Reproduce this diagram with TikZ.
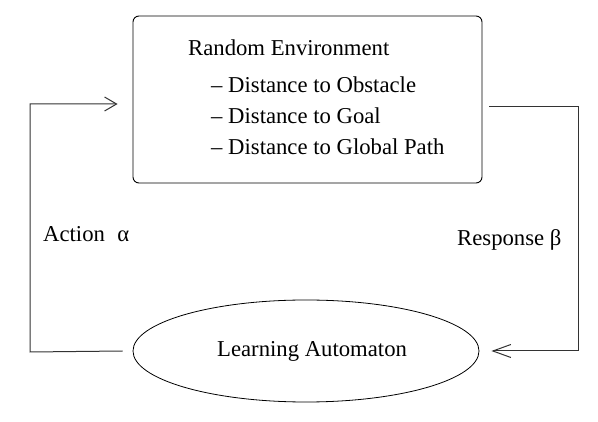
\documentclass[tikz,border=0pt]{standalone}
\usepackage{fontspec}
\setmainfont{Liberation Serif}
\usetikzlibrary{shapes.geometric,arrows.meta}
\begin{document}
\begin{tikzpicture}[x=1pt,y=-1pt,
  every node/.style={font=\fontsize{22.7}{26}\selectfont, inner sep=0pt},
  line/.style={draw=black!80, line width=1pt},
  arrA/.style={-{Straight Barb[length=12pt,width=14pt,line width=1pt]}},
  arrB/.style={-{Straight Barb[length=18pt,width=13pt,line width=1pt]}},
  lbl/.style={anchor=base west}]
\useasboundingbox (0,0) rectangle (598,422);
\node[draw, line width=0.9pt, rounded corners=6pt, minimum width=349pt, minimum height=167pt] (box) at (307.5,99.5) {};
\node[draw, ellipse, line width=0.8pt, minimum width=346pt, minimum height=102pt] (ell) at (306,351) {};
\node[lbl] (t0) at (188,56) {Random Environment};
\node[lbl] (t1) at (211,93) {– Distance to Obstacle};
\node[lbl] (t2) at (211,124) {– Distance to Goal};
\node[lbl] (t3) at (211,155) {– Distance to Global Path};
\node[lbl] (act) at (43,242) {Action\hspace{0.55em}α};
\node[lbl] (resp) at (457,246) {Response β};
\node[lbl] (la) at (217,357) {Learning Automaton};
\coordinate (lb) at (30,352);
\coordinate (rt) at (578,107);
\draw[line, arrA] ([xshift=-10pt]ell.west) -- (lb) |- ([xshift=-15pt,yshift=-4.5pt]box.west);
\draw[line, arrB] ([xshift=7pt,yshift=-7.5pt]box.east) -- (rt) |- ([xshift=12pt]ell.east);
\end{tikzpicture}
\end{document}
